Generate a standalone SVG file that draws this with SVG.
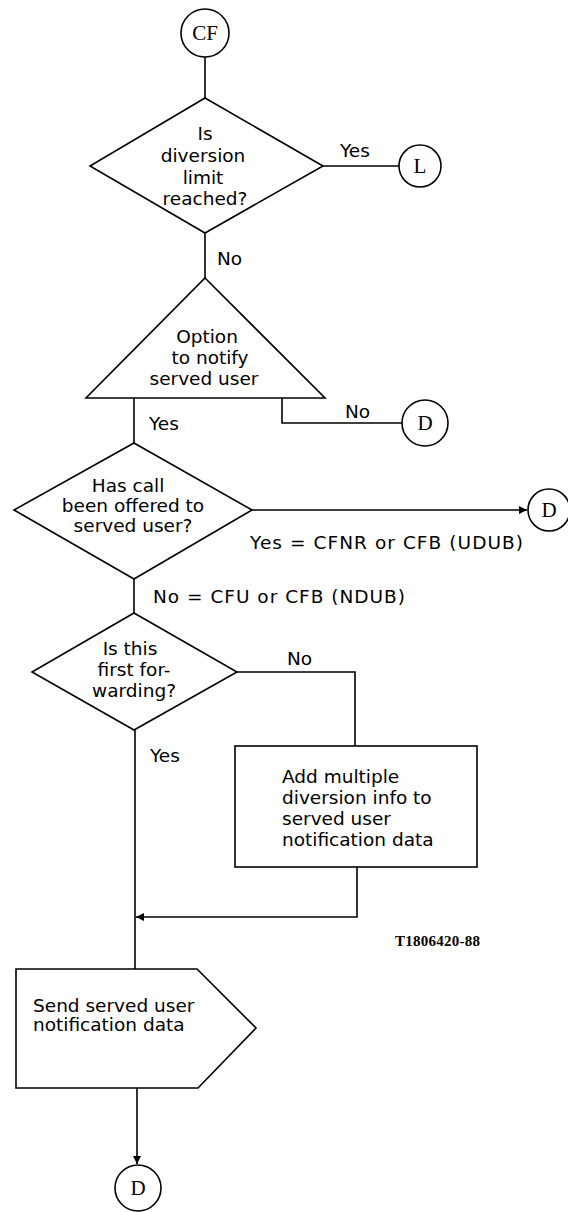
<svg xmlns="http://www.w3.org/2000/svg" width="568" height="1212" viewBox="0 0 568 1212">
<style>
.s{fill:none;stroke:#000;stroke-width:1.6;stroke-linejoin:miter}
.t{font-family:"DejaVu Sans",sans-serif;font-size:18.5px;fill:#000}
.m{text-anchor:middle}
.c{font-family:"Liberation Serif",serif;font-size:21px;fill:#000;text-anchor:middle}
.r{font-family:"Liberation Serif",serif;font-size:15px;font-weight:bold;fill:#000}
</style>
<defs>
<marker id="a" viewBox="0 0 10 10" refX="10" refY="5" markerWidth="9" markerHeight="8" markerUnits="userSpaceOnUse" orient="auto">
<path d="M0,0 L10,5 L0,10 Z" fill="#000"/>
</marker>
</defs>
<rect width="568" height="1212" fill="#fff"/>
<g id="connectors">
<path class="s" d="M205,57 V98"/>
<path class="s" d="M323,166 H399"/>
<path class="s" d="M205,233 V278"/>
<path class="s" d="M282,398 V423 H402"/>
<path class="s" d="M134,398 V443"/>
<path class="s" d="M252,510 H527" marker-end="url(#a)"/>
<path class="s" d="M134,579 V613"/>
<path class="s" d="M237,672 H355 V746"/>
<path class="s" d="M135,730 V969"/>
<path class="s" d="M357,867 V917 H136" marker-end="url(#a)"/>
<path class="s" d="M137,1088 V1164" marker-end="url(#a)"/>
</g>
<g id="cf">
<circle class="s" cx="205" cy="33" r="24"/>
<text class="c" x="205" y="40">CF</text>
</g>
<g id="d1">
<polygon class="s" points="205,98 323,166 205,233 90,166"/>
<text class="t m" x="205" y="140">Is</text>
<text class="t m" x="203" y="162">diversion</text>
<text class="t m" x="203" y="184">limit</text>
<text class="t m" x="205" y="205">reached?</text>
</g>
<g id="l">
<circle class="s" cx="420" cy="166" r="21"/>
<text class="c" x="420" y="173">L</text>
</g>
<g id="tri">
<polygon class="s" points="205,278 325,398 86,398"/>
<text class="t m" x="207" y="343">Option</text>
<text class="t m" x="210" y="364">to notify</text>
<text class="t m" x="204" y="385">served user</text>
</g>
<g id="dA">
<circle class="s" cx="425" cy="423" r="23"/>
<text class="c" x="425" y="430">D</text>
</g>
<g id="d3">
<polygon class="s" points="134,443 252,510 134,579 14,510"/>
<text class="t m" x="128" y="492">Has call</text>
<text class="t m" x="133" y="512">been offered to</text>
<text class="t m" x="133" y="532">served user?</text>
</g>
<g id="dB">
<circle class="s" cx="549" cy="510" r="21"/>
<text class="c" x="549" y="517">D</text>
</g>
<g id="d4">
<polygon class="s" points="134,613 237,672 134,730 32,672"/>
<text class="t m" x="130" y="655">Is this</text>
<text class="t m" x="134" y="676">first for-</text>
<text class="t m" x="134" y="697">warding?</text>
</g>
<g id="box">
<rect class="s" x="235" y="746" width="242" height="121"/>
<text class="t" x="282" y="783">Add multiple</text>
<text class="t" x="282" y="804">diversion info to</text>
<text class="t" x="282" y="825">served user</text>
<text class="t" x="282" y="846">notification data</text>
</g>
<g id="send">
<polygon class="s" points="16,969 197,969 256,1028 198,1088 16,1088"/>
<text class="t" x="33" y="1012">Send served user</text>
<text class="t" x="33" y="1031">notification data</text>
</g>
<g id="dC">
<circle class="s" cx="138" cy="1188" r="23"/>
<text class="c" x="138" y="1195">D</text>
</g>
<g id="labels">
<text class="t" x="340" y="157">Yes</text>
<text class="t" x="217" y="265">No</text>
<text class="t" x="149" y="430">Yes</text>
<text class="t" x="345" y="418">No</text>
<text class="t" x="250" y="549" textLength="273">Yes = CFNR or CFB (UDUB)</text>
<text class="t" x="153" y="603" textLength="252">No = CFU or CFB (NDUB)</text>
<text class="t" x="287" y="665">No</text>
<text class="t" x="150" y="762">Yes</text>
<text class="r" x="395" y="946" textLength="85">T1806420-88</text>
</g>
</svg>
